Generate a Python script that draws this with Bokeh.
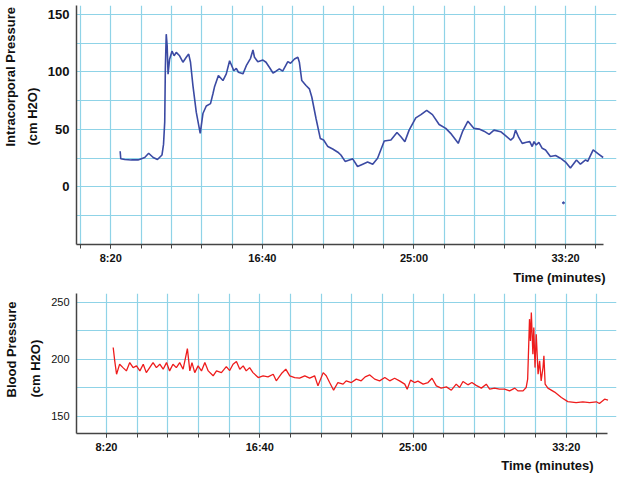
from bokeh.plotting import figure
from bokeh.layouts import column
from bokeh.models import FixedTicker, Range1d, Title
from bokeh.embed import file_html
from bokeh.resources import INLINE

# ---------------- data (time in seconds) ----------------
icp_t = [531, 533, 546, 568, 590, 612, 625, 640, 654, 669, 674, 678, 680, 683, 686, 689,
         694, 702, 709, 716, 727, 738, 749, 757, 763, 771, 782, 795, 804, 815, 829, 837,
         842, 855, 870, 881, 892, 906, 914, 921, 936, 947, 961, 969, 974, 985, 1002, 1012,
         1023, 1035, 1045, 1056, 1067, 1084, 1093, 1106, 1117, 1122, 1130, 1144, 1155, 1163,
         1177, 1191, 1202, 1216, 1232, 1249, 1259, 1273, 1287, 1298, 1314, 1331, 1347, 1364,
         1380, 1402, 1424, 1444, 1457, 1470, 1484, 1506, 1523, 1542, 1561, 1583, 1605, 1621,
         1646, 1660, 1678, 1698, 1715, 1731, 1748, 1764, 1786, 1802, 1819, 1828, 1835, 1846,
         1857, 1871, 1882, 1890, 1896, 1903, 1912, 1923, 1934, 1950, 1967, 1983, 2000, 2016,
         2036, 2049, 2066, 2073, 2091, 2110, 2124]
icp_v = [31.0, 24.5, 23.9, 23.5, 23.5, 25.6, 29.3, 25.6, 23.9, 27.8, 37.0, 56.6, 102.6, 132.8,
         122.7, 98.0, 111.0, 118.0, 114.0, 117.0, 114.0, 108.4, 112.7, 115.5, 108.4, 88.0, 65.0,
         46.6, 63.8, 70.4, 72.4, 81.0, 86.8, 96.8, 92.5, 98.3, 109.7, 101.0, 103.0, 99.7, 98.3,
         105.4, 111.8, 119.0, 112.7, 108.9, 110.3, 108.4, 104.0, 99.0, 100.6, 102.6, 100.6,
         108.9, 107.5, 111.2, 112.7, 108.4, 92.5, 88.2, 85.3, 78.2, 59.5, 42.2, 40.8, 35.1,
         33.0, 30.2, 27.8, 22.2, 23.5, 24.4, 17.8, 19.8, 21.6, 19.8, 25.0, 40.0, 40.8, 47.4,
         43.7, 39.4, 49.4, 60.0, 62.9, 66.6, 62.9, 54.3, 50.9, 46.6, 37.9, 48.0, 57.2, 50.9,
         50.3, 48.5, 45.7, 49.4, 48.0, 44.6, 40.8, 42.8, 49.4, 42.8, 37.9, 38.8, 39.4, 35.1,
         39.4, 36.5, 38.8, 33.6, 32.2, 26.5, 27.3, 25.0, 21.6, 16.4, 23.5, 19.8, 23.5, 22.2,
         32.2, 28.4, 25.6]
icp_outlier_t = [1993]
icp_outlier_v = [-13.8]

bp_t = [522, 527, 533, 543, 554, 565, 576, 587, 598, 609, 620, 630, 641, 652, 663, 674, 685,
        696, 706, 717, 728, 739, 750, 758, 764, 772, 779, 788, 799, 810, 821, 832, 848, 859,
        875, 891, 902, 913, 924, 935, 946, 956, 967, 978, 995, 1011, 1027, 1044, 1054, 1071,
        1085, 1098, 1114, 1130, 1147, 1163, 1179, 1190, 1207, 1217, 1228, 1241, 1255, 1272,
        1282, 1299, 1315, 1331, 1344, 1359, 1375, 1391, 1408, 1424, 1440, 1456, 1473, 1481,
        1492, 1505, 1516, 1533, 1549, 1562, 1576, 1592, 1609, 1625, 1641, 1652, 1663, 1679,
        1692, 1706, 1723, 1739, 1750, 1766, 1782, 1799, 1815, 1832, 1842, 1859, 1869, 1874,
        1880, 1883, 1886, 1891, 1894, 1898, 1902, 1908, 1913, 1918, 1924, 1927, 1931, 1940,
        1962, 1984, 2005, 2032, 2054, 2076, 2098, 2108, 2125, 2136]
bp_v = [210.2, 198.5, 186.8, 195.6, 192.6, 189.7, 197.0, 192.6, 194.1, 189.7, 195.6, 188.2,
        192.6, 197.0, 192.6, 195.6, 191.2, 197.0, 189.7, 195.6, 192.6, 197.0, 191.2, 201.4,
        209.3, 189.7, 197.0, 188.2, 194.1, 189.7, 197.0, 189.7, 185.4, 189.7, 188.2, 193.5,
        190.0, 195.6, 197.9, 191.2, 194.1, 189.7, 192.6, 188.2, 183.9, 185.4, 184.5, 186.8,
        181.0, 187.4, 191.2, 185.4, 183.9, 183.3, 185.4, 183.3, 185.4, 176.6, 188.2, 185.4,
        179.5, 172.8, 179.5, 178.1, 181.0, 179.5, 182.5, 181.0, 184.5, 186.2, 182.5, 181.0,
        183.9, 181.0, 183.3, 181.0, 178.1, 173.7, 181.6, 179.5, 180.7, 178.1, 179.5, 183.3,
        176.6, 174.6, 175.7, 172.8, 178.1, 175.1, 180.4, 177.5, 179.5, 177.0, 174.6, 178.1,
        173.7, 174.6, 173.7, 173.7, 172.2, 174.6, 172.2, 172.2, 175.1, 182.5, 235.1, 216.0,
        240.9, 204.4, 227.7, 192.6, 221.9, 186.8, 198.5, 181.0, 192.6, 203.0, 178.1, 174.6,
        171.1, 166.4, 162.8, 161.9, 162.6, 161.9, 162.6, 161.1, 164.9, 164.0]

x_tick_values = [500, 1000, 1500, 2000]
x_tick_labels = ["8:20", "16:40", "25:00", "33:20"]
icp_ticks = [0, 50, 100, 150]
icp_grid = [-25, 0, 25, 50, 75, 100, 125, 150]
bp_ticks = [150, 200, 250]
bp_grid = [150, 175, 200, 225, 250]

# ---------------- styling / layout ----------------
FONT = "Liberation Sans"
GRID = "#8fd3e7"
AXIS = "#444444"
W = 620
FRAME_L, FRAME_R = 75, 616

TOP_X = (387.0, 2168.0)
TOP_Y = (-50.0, 157.7)
BOT_X = (402.3, 2163.8)
BOT_Y = (134.8, 257.6)


def make_fig(height, border_top, border_bottom, xr, yr, minor, ygrid, yticks, axis_end,
             ylab_size, ylab_style):
    p = figure(width=W, height=height, output_backend="svg",
               toolbar_location=None, x_range=Range1d(*xr), y_range=Range1d(*yr),
               min_border_left=FRAME_L, min_border_right=W - FRAME_R,
               min_border_top=border_top, min_border_bottom=border_bottom)
    p.outline_line_color = None
    p.background_fill_color = "white"
    p.border_fill_color = "white"

    xa = p.xaxis[0]
    xa.ticker = FixedTicker(ticks=x_tick_values, minor_ticks=minor)
    xa.major_label_overrides = dict(zip(x_tick_values, x_tick_labels))
    xa.bounds = (xr[0], axis_end)
    xa.axis_line_color = AXIS
    xa.axis_line_width = 1.5
    xa.major_tick_line_color = AXIS
    xa.minor_tick_line_color = AXIS
    xa.major_tick_in = 0
    xa.major_tick_out = 4
    xa.minor_tick_in = 0
    xa.minor_tick_out = 4
    xa.major_label_standoff = 3
    xa.major_label_text_font = FONT
    xa.major_label_text_font_style = "bold"
    xa.major_label_text_font_size = "11px"
    xa.major_label_text_color = "#111111"

    ya = p.yaxis[0]
    ya.ticker = FixedTicker(ticks=yticks)
    ya.axis_line_color = AXIS
    ya.axis_line_width = 1.5
    ya.major_tick_line_color = None
    ya.minor_tick_line_color = None
    ya.major_tick_out = 0
    ya.major_tick_in = 0
    ya.major_label_standoff = 7
    ya.major_label_text_font = FONT
    ya.major_label_text_font_style = ylab_style
    ya.major_label_text_font_size = ylab_size
    ya.major_label_text_color = "#111111"

    p.xgrid.ticker = FixedTicker(ticks=minor)
    p.ygrid.ticker = FixedTicker(ticks=ygrid)
    for g in (p.xgrid, p.ygrid):
        g.grid_line_color = GRID
        g.grid_line_width = 1.2
    return p


def side_title(p, txt, place, align, offset, standoff):
    p.add_layout(Title(text=txt, align=align, offset=offset, standoff=standoff,
                       text_font=FONT, text_font_style="bold", text_font_size="13px",
                       text_color="#111111"), place)


# top panel: page y 0..285, frame 5..247
p1 = make_fig(285, 5, 38, TOP_X, TOP_Y, list(range(400, 2200, 100)), icp_grid,
              icp_ticks, 2124, "13px", "bold")
p1.line(icp_t, icp_v, line_color="#3b4aa3", line_width=1.6)
p1.scatter(icp_outlier_t, icp_outlier_v, size=2, color="#3b4aa3")
side_title(p1, "(cm H2O)", "left", "left", 99, 10)
side_title(p1, "Intracorporal Pressure", "left", "left", 98, 0)
side_title(p1, "Time (minutes)", "below", "right", 11, 2)

# bottom panel: page y 285..476, frame 293..433
p2 = make_fig(191, 8, 43, BOT_X, BOT_Y, list(range(500, 2200, 100)), bp_grid,
              bp_ticks, 2134, "11px", "normal")
p2.line(bp_t, bp_v, line_color="#ee1c1c", line_width=1.3)
side_title(p2, "(cm H2O)", "left", "left", 36, 12)
side_title(p2, "Blood Pressure", "left", "left", 36, 1)
side_title(p2, "Time (minutes)", "below", "right", 23, 0)

layout = column(p1, p2)
open("out.html", "w").write(file_html(layout, INLINE))
